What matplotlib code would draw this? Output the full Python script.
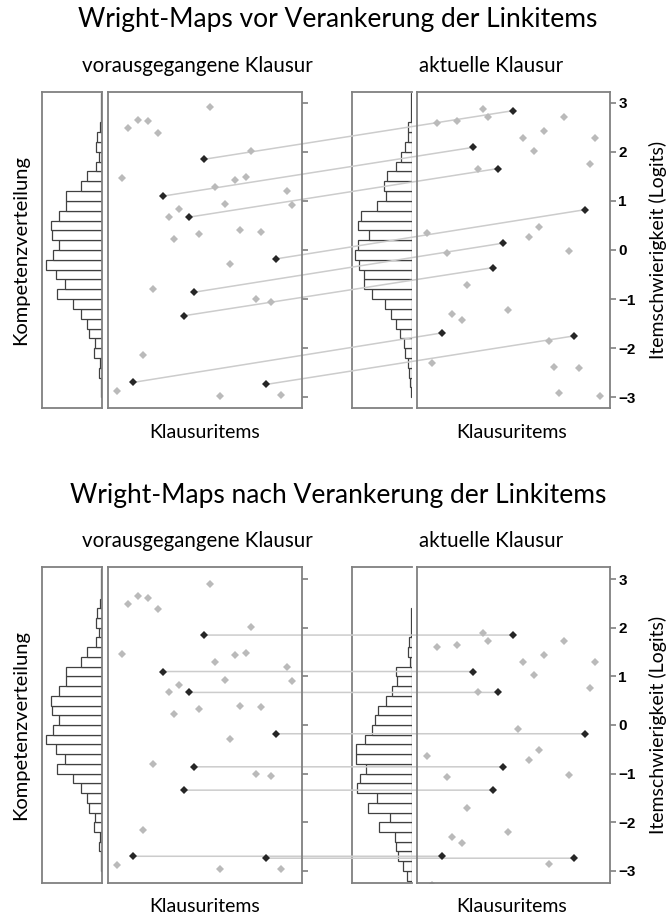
import numpy as np
import matplotlib
matplotlib.use("Agg")
import matplotlib.pyplot as plt
from matplotlib.patches import ConnectionPatch

# Daten ----------------------------------------------------------------------------------------------------------------
# Itemschwierigkeiten (Logits), Item 1..35, Reihenfolge wie auf der x-Achse
items_vorher = [-2.87, 1.46, 2.48, -2.70, 2.65, -2.15, 2.62, -0.80, 2.39, 1.10,
                0.67, 0.22, 0.83, -1.34, 0.67, -0.86, 0.33, 1.85, 2.91, 1.29,
                -2.97, 0.93, -0.29, 1.43, 0.40, 1.48, 2.01, -1.00, 0.36, -2.74,
                -1.05, -0.18, -2.96, 1.20, 0.91]
items_aktuell_vor = [0.35, -2.31, 2.59, -1.69, -0.07, -1.31, 2.63, -1.43, -0.71, 2.09,
                     1.66, 2.88, 2.71, -0.36, 1.66, 0.14, -1.22, 2.84, np.nan, 2.29,
                     0.27, 2.01, 0.47, 2.43, -1.86, -2.38, -2.91, 2.72, -0.03, -1.75,
                     -2.40, 0.82, 1.76, 2.29, -2.97]
items_aktuell_nach = [-0.64, -3.30, 1.60, -2.70, -1.06, -2.30, 1.64, -2.42, -1.70, 1.10,
                      0.67, 1.89, 1.72, -1.34, 0.67, -0.86, -2.21, 1.85, -0.09, 1.30,
                      -0.72, 1.02, -0.52, 1.44, -2.85, -3.37, -3.90, 1.73, -1.02, -2.74,
                      -3.39, -0.18, 0.77, 1.30, -3.96]
linkitems = [4, 10, 14, 15, 16, 18, 30, 32]

# Kompetenzverteilung (relative Häufigkeiten je 0.2-Logit-Klasse)
klassen_vorher = [-3.0, -2.8, -2.6, -2.4, -2.2, -2.0, -1.8, -1.6, -1.4, -1.2, -1.0,
                  -0.8, -0.6, -0.4, -0.2, 0.0, 0.2, 0.4, 0.6, 0.8, 1.0, 1.2, 1.4,
                  1.6, 1.8, 2.0, 2.2, 2.4, 2.6, 2.8, 3.0]
hist_vorher = [0.7, 1.0, 3.3, 1.7, 8.5, 7.0, 13.0, 15.3, 20.7, 29.3, 45.0,
               36.7, 46.3, 56.0, 49.0, 43.3, 50.0, 50.7, 43.3, 35.7, 35.7, 21.0, 15.0,
               6.0, 2.7, 5.7, 5.0, 2.0, 1.5, 0.7, 0.7]
hist_aktuell_vor = [0.7, 2.3, 3.3, 4.0, 7.3, 8.3, 12.3, 15.7, 20.7, 27.3, 40.0,
                    48.0, 48.0, 53.3, 57.3, 54.0, 43.3, 54.0, 51.3, 34.7, 25.7, 28.3, 24.7,
                    15.7, 10.7, 6.7, 4.0, 4.0, 1.0, 0.7, 0.7]
klassen_nach = [-3.2, -3.0, -2.8, -2.6, -2.4, -2.2, -2.0, -1.8, -1.6, -1.4, -1.2,
                -1.0, -0.8, -0.6, -0.4, -0.2, 0.0, 0.2, 0.4, 0.6, 0.8, 1.0, 1.2,
                1.4, 1.6, 1.8, 2.0, 2.2]
hist_aktuell_nach = [4.7, 9.0, 14.0, 15.7, 16.7, 33.0, 22.3, 44.0, 34.7, 55.0, 52.3,
                     45.7, 55.7, 55.7, 47.3, 40.0, 37.3, 34.0, 25.7, 20.0, 14.7, 16.3, 2.3,
                     4.0, 3.0, 1.3, 0.7, 0.7]

ticks = [3, 2, 1, 0, -1, -2, -3]

# Layout ---------------------------------------------------------------------------------------------------------------
W, H = 671, 919
fig = plt.figure(figsize=(W / 100, H / 100), dpi=100)
FONT = ["Lato", "DejaVu Sans"]
RAHMEN = "#808080"
GRAU = "#bababa"
SCHWARZ = "#262626"


def px_axes(x0, y0, x1, y1, z=0):
    return fig.add_axes([x0 / W, 1 - y1 / H, (x1 - x0) / W, (y1 - y0) / H], zorder=z)


def px_text(x, y, s, **kw):
    fig.text(x / W, 1 - y / H, s, ha="center", va="center", family=FONT, **kw)


def rahmen(ax, ohne_rechts=False):
    for name, sp in ax.spines.items():
        sp.set_color(RAHMEN)
        sp.set_linewidth(1.3)
    if ohne_rechts:
        ax.spines["right"].set_visible(False)


def histogramm(ax, klassen, werte, ylim, ohne_rechts=False):
    ax.barh(klassen, werte, height=0.2, align="edge", color="white",
            edgecolor="#404040", linewidth=0.9)
    ax.set_xlim(60, 0)
    ax.set_ylim(ylim)
    ax.set_xticks([])
    ax.set_yticks([])
    rahmen(ax, ohne_rechts)


def itemmap(ax, werte, ylim, beschriftet):
    nr = np.arange(1, len(werte) + 1)
    werte = np.array(werte)
    link = np.isin(nr, linkitems)
    ax.plot(nr[~link], werte[~link], "D", ms=4.0, mew=0, color=GRAU)
    ax.plot(nr[link], werte[link], "D", ms=4.0, mew=0, color=SCHWARZ)
    ax.set_xlim(-0.9, 37.0)
    ax.set_ylim(ylim)
    ax.set_xticks([])
    ax.yaxis.tick_right()
    ax.set_yticks(ticks)
    ax.tick_params(axis="y", length=4, width=1.2, color=RAHMEN, pad=2,
                   labelright=beschriftet, labelsize=11)
    for lab in ax.get_yticklabels():
        lab.set_fontfamily("Liberation Sans")
        lab.set_fontweight("bold")
    ax.set_facecolor("none")
    rahmen(ax)


def panel(y0, y1, ylim, titel, rechts_werte, rechts_hist, rechts_klassen):
    h1 = px_axes(42, y0, 102, y1)
    i1 = px_axes(107.5, y0, 302, y1, z=2)
    h2 = px_axes(352, y0, 412, y1)
    i2 = px_axes(417, y0, 610, y1, z=2)
    histogramm(h1, klassen_vorher, hist_vorher, ylim)
    histogramm(h2, rechts_klassen, rechts_hist, ylim, ohne_rechts=True)
    itemmap(i1, items_vorher, ylim, False)
    itemmap(i2, rechts_werte, ylim, True)

    # Verbindungslinien der Linkitems
    for nr in linkitems:
        con = ConnectionPatch(xyA=(nr, items_vorher[nr - 1]), coordsA=i1.transData,
                              xyB=(nr, rechts_werte[nr - 1]), coordsB=i2.transData,
                              color="#cccccc", linewidth=1.1, zorder=1)
        fig.add_artist(con)

    mitte = (y0 + y1) / 2
    px_text(338, y0 - 72, titel, fontsize=19)
    px_text(197, y0 - 26, "vorausgegangene Klausur", fontsize=14.8)
    px_text(491, y0 - 26, "aktuelle Klausur", fontsize=14.8)
    px_text(205, y1 + 24, "Klausuritems", fontsize=14)
    px_text(512, y1 + 24, "Klausuritems", fontsize=14)
    px_text(21, mitte, "Kompetenzverteilung", fontsize=14.5, rotation=90)
    px_text(658, mitte, "Itemschwierigkeit (Logits)", fontsize=14, rotation=90)


panel(92, 408, (-3.22, 3.22), "Wright-Maps vor Verankerung der Linkitems",
      items_aktuell_vor, hist_aktuell_vor, klassen_vorher)
panel(567, 883, (-3.25, 3.25), "Wright-Maps nach Verankerung der Linkitems",
      items_aktuell_nach, hist_aktuell_nach, klassen_nach)

fig.savefig("out.png", dpi=100)
